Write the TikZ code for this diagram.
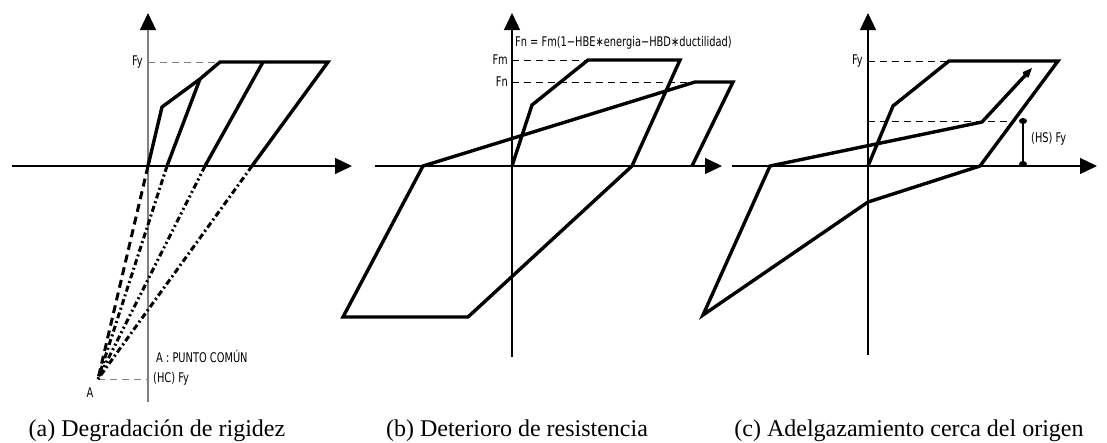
\documentclass[tikz,border=0pt]{standalone}
\usepackage{fontspec}
\setmainfont{Liberation Serif}
\newfontfamily\cad[FakeStretch=0.74]{DejaVu Sans}
\usetikzlibrary{arrows.meta}
\begin{document}
\begin{tikzpicture}[x=1pt,y=-1pt,
  curve/.style={line width=3.4pt, line join=miter, miter limit=4},
  axis/.style={line width=1.2pt, -{Triangle[length=17pt,width=16pt,fill=black,color=black]}},
  guide/.style={line width=1pt, dash pattern=on 7pt off 5pt},
  ray/.style={line width=3pt},
  lbl/.style={font=\cad\fontsize{13.3}{13.3}\selectfont, inner sep=1pt},
  capt/.style={font=\fontsize{24}{24}\selectfont, inner sep=0pt}]
\useasboundingbox[fill=white] (0,0) rectangle (1107,442);

% ---------- panel (a)
\coordinate (aO) at (148,166);
\coordinate (a1) at (162,107);
\coordinate (a2) at (200,79);
\coordinate (a3) at (220,62);
\coordinate (a4) at (328,62);
\coordinate (a5) at (252,166);
\coordinate (a6) at (263,62);
\coordinate (a7) at (205,166);
\coordinate (a8) at (167,166);
\coordinate (A) at (98,379);
\coordinate (aY0) at (148,402);
\coordinate (aY1) at (148,13);
\coordinate (aX0) at (12,166);
\coordinate (aX1) at (352,166);
\coordinate (aFy) at (148,62);
\coordinate (aHC) at (148,379);
\draw[axis, draw=gray] (aY0) -- (aY1);
\draw[axis] (aX0) -- (aX1);
\draw[guide, gray] (aFy) -- (a3);
\draw[guide, gray] (A) -- (aHC);
\node[lbl, anchor=east] (aFyl) at (144,62) {Fy};
\draw[curve] (aO) -- (a1) -- (a2) -- (a3) -- (a4) -- (a5);
\draw[curve] (a2) -- (a8);
\draw[curve] (a6) -- (a7);
\draw[ray, dash pattern=on 8pt off 5pt] (aO) -- (A);
\draw[ray, dash pattern=on 6pt off 3pt on 2pt off 3pt] (a8) -- (A);
\draw[ray, dash pattern=on 6pt off 3pt on 2pt off 3pt on 2pt off 3pt] (a7) -- (A);
\draw[ray, dash pattern=on 6pt off 3pt on 2pt off 3pt] (a5) -- (A);
\node[lbl] (Al) at (90,393) {A};
\node[lbl, anchor=west] (HCl) at (152,379) {(HC) Fy};
\node[lbl, anchor=west] (PCl) at (155,356) {A : PUNTO COMÚN};

% ---------- panel (b)
\coordinate (bO) at (512,166);
\coordinate (bY0) at (512,357);
\coordinate (bY1) at (512,13);
\coordinate (bX0) at (375,166);
\coordinate (bX1) at (722,166);
\coordinate (b1) at (532,105);
\coordinate (b2) at (588,60);
\coordinate (b3) at (680,60);
\coordinate (b4) at (632,166);
\coordinate (b5) at (468,317);
\coordinate (b6) at (343,317);
\coordinate (b7) at (423,166);
\coordinate (b8) at (695,82);
\coordinate (b9) at (733,82);
\coordinate (b10) at (692,166);
\coordinate (bFm) at (512,60);
\coordinate (bFn) at (512,82);
\draw[axis] (bY0) -- (bY1);
\draw[axis] (bX0) -- (bX1);
\draw[guide] (bFm) -- (b2);
\draw[guide] (bFn) -- (b8);
\node[lbl, anchor=east] (bFml) at (509,60) {Fm};
\node[lbl, anchor=east] (bFnl) at (509,82) {Fn};
\node[lbl, anchor=west] (bEq) at (514,43) {Fn = Fm(1−HBE∗energia−HBD∗ductilidad)};
\draw[curve] (bO) -- (b1) -- (b2) -- (b3) -- (b4) -- (b5) -- (b6) -- (b7) -- (b8) -- (b9) -- (b10);

% ---------- panel (c)
\coordinate (cO) at (868,166);
\coordinate (cY0) at (868,355);
\coordinate (cY1) at (868,13);
\coordinate (cX0) at (732,166);
\coordinate (cX1) at (1097,166);
\coordinate (c1) at (893,106);
\coordinate (c2) at (949,61);
\coordinate (c3) at (1058,61);
\coordinate (c4) at (980,166);
\coordinate (c5) at (868,202);
\coordinate (c6) at (703,315);
\coordinate (c7) at (770,166);
\coordinate (c8) at (982,122);
\coordinate (c9) at (1032,68);
\coordinate (cFy) at (868,61);
\coordinate (cG0) at (868,121);
\coordinate (cG1) at (1013,121);
\coordinate (cD0) at (1023,121);
\coordinate (cD1) at (1023,164);
\draw[axis] (cY0) -- (cY1);
\draw[axis] (cX0) -- (cX1);
\draw[guide] (cFy) -- (c2);
\draw[guide] (cG0) -- (cG1);
\node[lbl, anchor=east] (cFyl) at (864,61) {Fy};
\draw[curve, -{Stealth[length=13pt,width=11pt]}] (cO) -- (c1) -- (c2) -- (c3) -- (c4) -- (c5) -- (c6) -- (c7) -- (c8) -- (c9);
\draw[line width=1.2pt] (cD0) -- (cD1);
\fill (cD0) ellipse [x radius=4pt, y radius=3pt];
\fill (cD1) ellipse [x radius=4pt, y radius=3pt];
\node[lbl, anchor=west] (HSl) at (1030,139) {(HS) Fy};

% ---------- captions
\node[capt] (capa) at (157,431) {(a) Degradación de rigidez};
\node[capt] (capb) at (517,431) {(b) Deterioro de resistencia};
\node[capt] (capc) at (909,431) {(c) Adelgazamiento cerca del origen};
\end{tikzpicture}
\end{document}
